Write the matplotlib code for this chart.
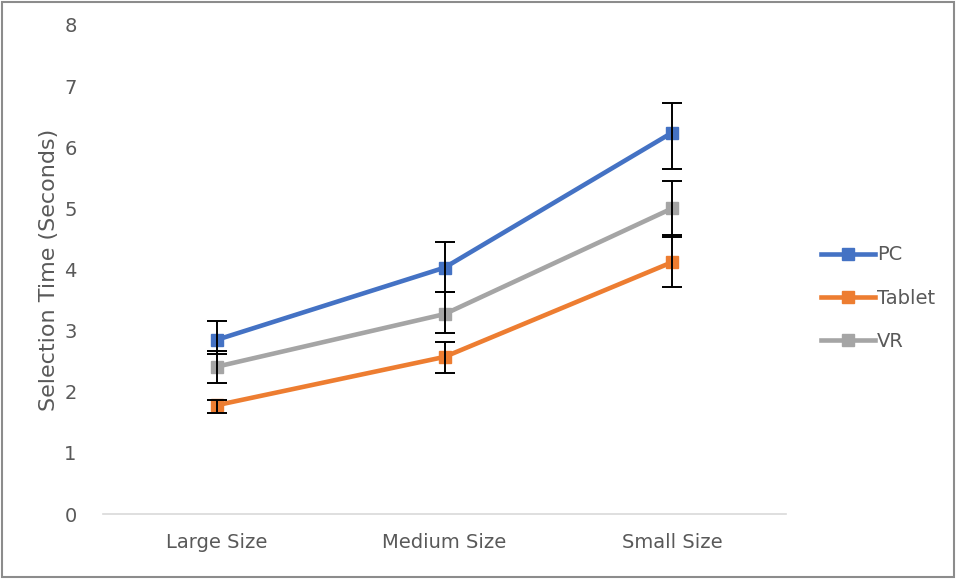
import numpy as np
import matplotlib
matplotlib.use("Agg")
import matplotlib.pyplot as plt
from matplotlib.patches import Rectangle

categories = ["Large Size", "Medium Size", "Small Size"]
series = ["PC", "Tablet", "VR"]
pc = [2.85, 4.03, 6.24]
pc_lo = [2.62, 3.63, 5.65]
pc_hi = [3.16, 4.45, 6.72]
tablet = [1.78, 2.57, 4.12]
tablet_lo = [1.66, 2.31, 3.71]
tablet_hi = [1.87, 2.82, 4.57]
vr = [2.41, 3.27, 5.00]
vr_lo = [2.15, 2.96, 4.53]
vr_hi = [2.66, 3.63, 5.45]
colors = ["#4472C4", "#ED7D31", "#A5A5A5"]

plt.rcParams['font.family'] = ['DejaVu Sans']
grey = "#595959"

fig = plt.figure(figsize=(9.56, 5.79), dpi=100)
ax = fig.add_axes([103/956, 65/579, 683/956, 489/579])

x = np.arange(len(categories))
data = [(pc, pc_lo, pc_hi), (tablet, tablet_lo, tablet_hi), (vr, vr_lo, vr_hi)]
for (vals, lo, hi), name, c in zip(data, series, colors):
    vals = np.array(vals)
    yerr = [vals - np.array(lo), np.array(hi) - vals]
    ax.plot(x, vals, color=c, lw=3.3, marker="s", markersize=8, label=name, zorder=3)
    ax.errorbar(x, vals, yerr=yerr, fmt="none", ecolor="black", elinewidth=1.4,
                capsize=7, capthick=1.4, zorder=4)

ax.set_xlim(-0.5, 2.5)
ax.set_ylim(0, 8)
ax.set_yticks(range(0, 9))
ax.set_xticks(x)
ax.set_xticklabels(categories)
for s in ["top", "right", "left"]:
    ax.spines[s].set_visible(False)
ax.spines["bottom"].set_color("#D9D9D9")
ax.spines["bottom"].set_linewidth(1.2)
ax.tick_params(axis="both", length=0, labelsize=14, colors=grey)
ax.tick_params(axis="y", pad=19)
ax.tick_params(axis="x", pad=14)
ax.set_ylabel("Selection Time (Seconds)", fontsize=16, color=grey, labelpad=4)

leg = fig.legend(loc="center left", bbox_to_anchor=(0.84, 0.485), frameon=False,
                 fontsize=14, handlelength=2.8, labelspacing=1.25, handletextpad=0.1)
for t in leg.get_texts():
    t.set_color(grey)

fig.patches.append(Rectangle((0.002, 0.003), 0.996, 0.994, transform=fig.transFigure,
                             fill=False, edgecolor="#8C8C8C", lw=1.5))

fig.savefig("out.png", dpi=100)
